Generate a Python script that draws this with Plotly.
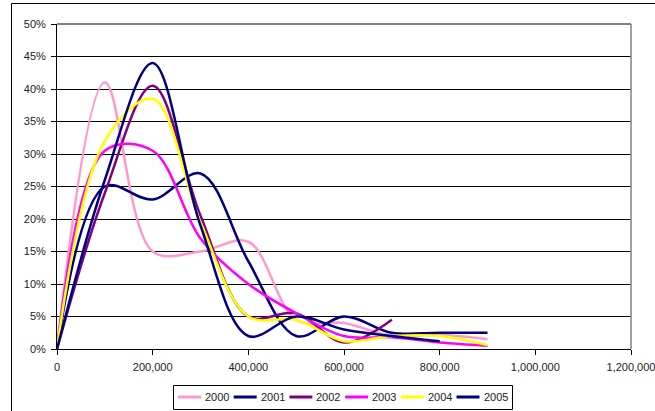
import plotly.graph_objects as go

# Price bands (x) and the share of sales falling in each band, per year
price_levels = [0, 100000, 200000, 300000, 400000, 500000, 600000, 700000, 800000, 900000]

share_2000 = [0.0, 0.41, 0.15, 0.15, 0.165, 0.045, 0.04, 0.02, 0.022, 0.015]
share_2001 = [0.0, 0.25, 0.23, 0.27, 0.135, 0.02, 0.05, 0.025, 0.025, 0.025]
share_2002 = [0.0, 0.24, 0.405, 0.205, 0.05, 0.055, 0.01, 0.045]
share_2003 = [0.0, 0.305, 0.305, 0.17, 0.10, 0.055, 0.02, 0.018, 0.01, 0.005]
share_2004 = [0.0, 0.32, 0.385, 0.195, 0.05, 0.045, 0.012, 0.02, 0.02, 0.006]
share_2005 = [0.0, 0.26, 0.44, 0.19, 0.02, 0.05, 0.03, 0.02, 0.012]

years = ["2000", "2001", "2002", "2003", "2004", "2005"]
series = [share_2000, share_2001, share_2002, share_2003, share_2004, share_2005]
colors = ["#FF99CC", "#000080", "#800080", "#FF00FF", "#FFFF00", "#000080"]

x_ticks = [0, 200000, 400000, 600000, 800000, 1000000, 1200000]

FONT = "Liberation Sans, Arial, sans-serif"

fig = go.Figure()
for name, vals, col in zip(years, series, colors):
    fig.add_trace(go.Scatter(
        x=price_levels[:len(vals)],
        y=vals,
        name=name,
        mode="lines",
        line=dict(color=col, width=2.5, shape="spline", smoothing=1.0),
        hoverinfo="skip",
        showlegend=False,
    ))

W, H = 655, 411
L, R, T, B = 57, 631, 24, 349
pw, ph = R - L, B - T

def px_to_paper_x(px):
    return (px - L) / pw

def px_to_paper_y(py):
    return (B - py) / ph

shapes = [
    # plot-area frame (grey, top and right)
    dict(type="line", xref="paper", yref="paper", x0=0, x1=1, y0=1, y1=1,
         line=dict(color="#808080", width=2), layer="above"),
    dict(type="line", xref="paper", yref="paper", x0=1, x1=1, y0=0, y1=1,
         line=dict(color="#808080", width=1.5), layer="above"),
    # chart-area border
    dict(type="rect", xref="paper", yref="paper",
         x0=px_to_paper_x(11.5), x1=px_to_paper_x(700),
         y0=px_to_paper_y(460), y1=px_to_paper_y(3.5),
         line=dict(color="black", width=1), layer="above"),
    # legend box
    dict(type="rect", xref="paper", yref="paper",
         x0=px_to_paper_x(173.5), x1=px_to_paper_x(512.5),
         y0=px_to_paper_y(409.5), y1=px_to_paper_y(385.5),
         line=dict(color="black", width=1), fillcolor="white", layer="above"),
]
annotations = []

# legend entries: short colour key followed by the year
key_x0, key_step, key_len, key_y = 178, 55.7, 23, 397
for i, (name, col) in enumerate(zip(years, colors)):
    x0 = key_x0 + i * key_step
    shapes.append(dict(
        type="line", xref="paper", yref="paper",
        x0=px_to_paper_x(x0), x1=px_to_paper_x(x0 + key_len),
        y0=px_to_paper_y(key_y), y1=px_to_paper_y(key_y),
        line=dict(color=col, width=3), layer="above",
    ))
    annotations.append(dict(
        xref="paper", yref="paper",
        x=px_to_paper_x(x0 + key_len + 2), y=px_to_paper_y(key_y),
        xanchor="left", yanchor="middle",
        text=name, showarrow=False,
        font=dict(family=FONT, size=11, color="#222222"),
    ))

fig.update_layout(
    width=W, height=H,
    margin=dict(l=L, r=W - R, t=T, b=H - B, pad=0, autoexpand=False),
    paper_bgcolor="white",
    plot_bgcolor="white",
    font=dict(family=FONT, size=11, color="#222222"),
    showlegend=False,
    xaxis=dict(
        range=[0, 1200000],
        tickvals=x_ticks,
        tickformat=",",
        showgrid=False,
        zeroline=False,
        showline=True, linecolor="black", linewidth=1,
        ticks="outside", ticklen=5, tickcolor="black", tickwidth=1,
        ticklabelstandoff=3,
        ticklabeloverflow="allow",
        fixedrange=True,
    ),
    yaxis=dict(
        range=[0, 0.5],
        dtick=0.05,
        tickformat=".0%",
        showgrid=True, gridcolor="black", gridwidth=1,
        zeroline=False,
        showline=True, linecolor="black", linewidth=1,
        ticks="outside", ticklen=5, tickcolor="black", tickwidth=1,
        ticklabelstandoff=3,
        fixedrange=True,
    ),
    shapes=shapes,
    annotations=annotations,
)

fig.write_html("out.html")
